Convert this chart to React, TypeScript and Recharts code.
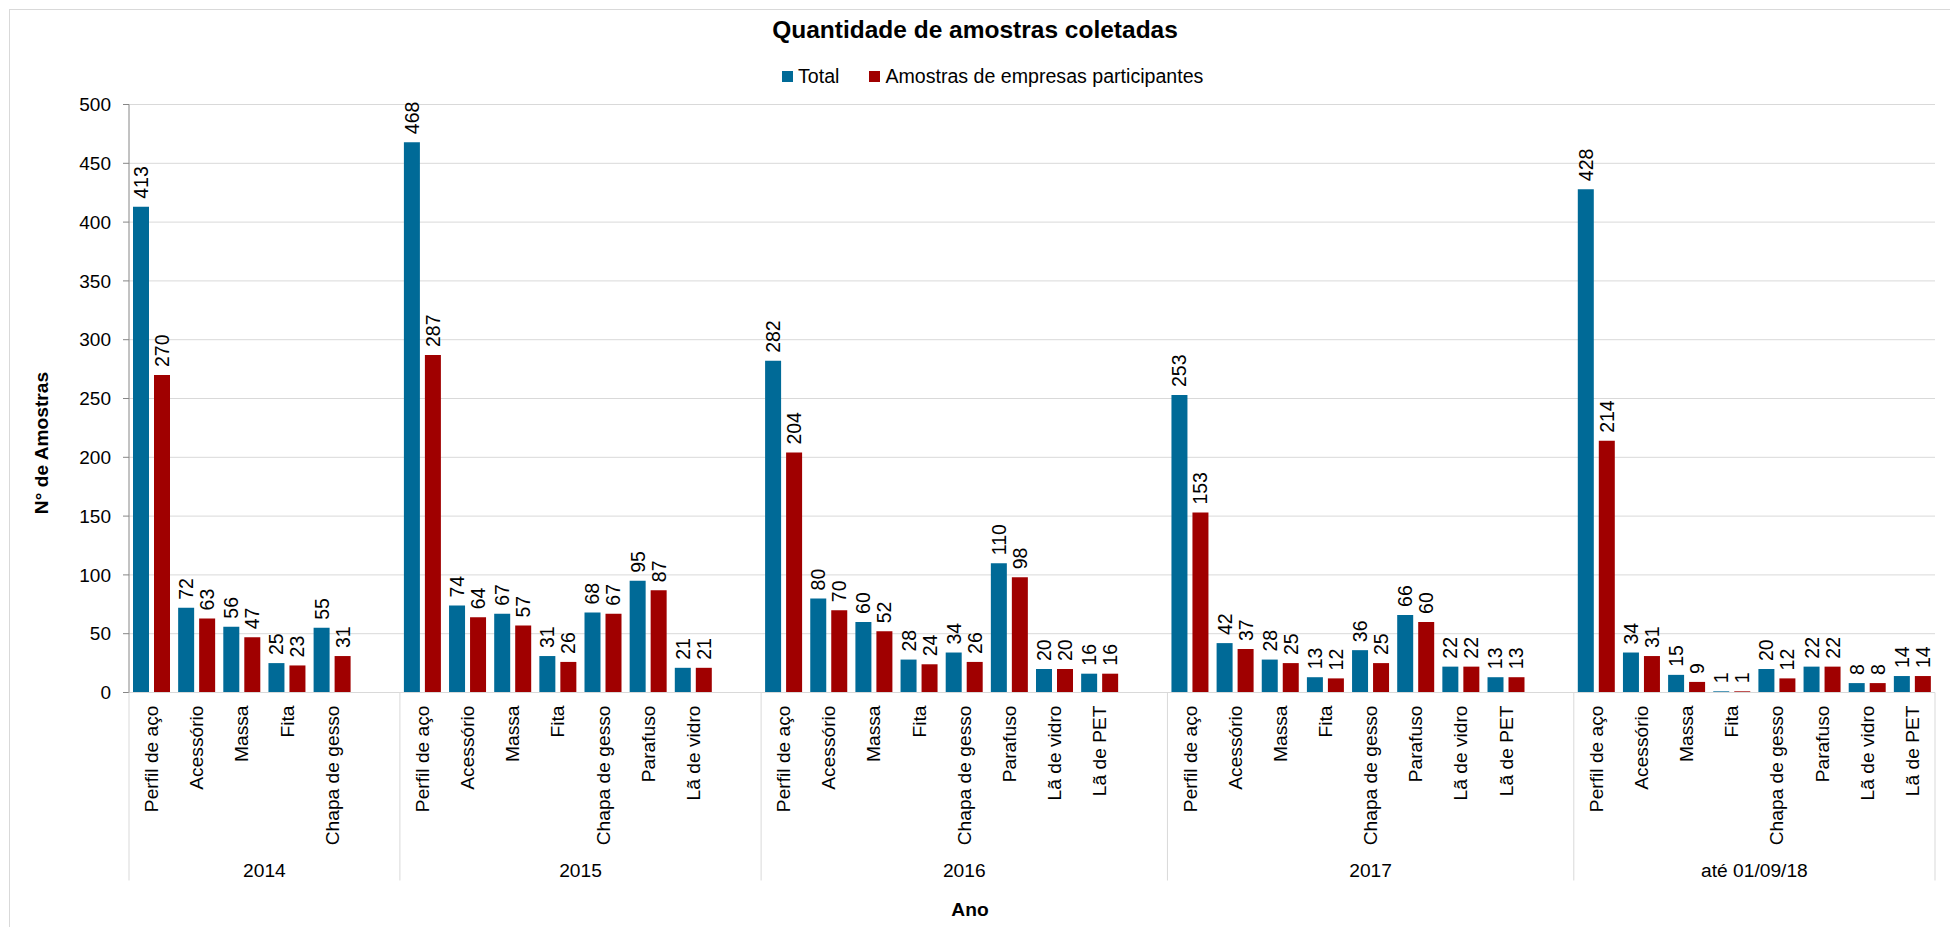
import React from 'react'
import { BarChart, Bar, XAxis, YAxis, CartesianGrid, LabelList } from 'recharts'

// one entry per period on the x axis
const years = ['2014', '2015', '2016', '2017', 'até 01/09/18']

const categories = [
  ['Perfil de aço', 'Acessório', 'Massa', 'Fita', 'Chapa de gesso'],
  ['Perfil de aço', 'Acessório', 'Massa', 'Fita', 'Chapa de gesso', 'Parafuso', 'Lã de vidro'],
  ['Perfil de aço', 'Acessório', 'Massa', 'Fita', 'Chapa de gesso', 'Parafuso', 'Lã de vidro', 'Lã de PET'],
  ['Perfil de aço', 'Acessório', 'Massa', 'Fita', 'Chapa de gesso', 'Parafuso', 'Lã de vidro', 'Lã de PET'],
  ['Perfil de aço', 'Acessório', 'Massa', 'Fita', 'Chapa de gesso', 'Parafuso', 'Lã de vidro', 'Lã de PET'],
]

const totalValues = [
  [413, 72, 56, 25, 55],
  [468, 74, 67, 31, 68, 95, 21],
  [282, 80, 60, 28, 34, 110, 20, 16],
  [253, 42, 28, 13, 36, 66, 22, 13],
  [428, 34, 15, 1, 20, 22, 8, 14],
]

const participantValues = [
  [270, 63, 47, 23, 31],
  [287, 64, 57, 26, 67, 87, 21],
  [204, 70, 52, 24, 26, 98, 20, 16],
  [153, 37, 25, 12, 25, 60, 22, 13],
  [214, 31, 9, 1, 12, 22, 8, 14],
]

const yTicks = [0, 50, 100, 150, 200, 250, 300, 350, 400, 450, 500]

const BLUE = '#006a97'
const RED = '#a00000'
const GRID = '#d9d9d9'

// flatten the groups, with an empty slot after every group but the last
type Row = {
  name: string
  total: number | null
  part: number | null
  group: number
  pos: number
  size: number
}

const rows: Row[] = []
years.forEach((_, g) => {
  const cats = categories[g]
  const hasGap = g < years.length - 1
  const size = cats.length + (hasGap ? 1 : 0)
  cats.forEach((name, i) => {
    rows.push({ name, total: totalValues[g][i], part: participantValues[g][i], group: g, pos: i, size })
  })
  if (hasGap) rows.push({ name: '', total: null, part: null, group: g, pos: cats.length, size })
})

const CHART_W = 1950
const CHART_H = 927
const margin = { top: 104.5, right: 15, bottom: 34, left: 69 }
const Y_WIDTH = 60
const X_HEIGHT = CHART_H - margin.top - margin.bottom - 588
const plotWidth = CHART_W - margin.left - margin.right - Y_WIDTH
const fallbackBand = plotWidth / rows.length

const CategoryTick = (props: any) => {
  const { x, y, payload } = props
  const idx = payload?.index ?? props.index
  const row = rows[idx]
  if (!row) return null
  const band = payload?.offset ? payload.offset * 2 : fallbackBand
  const left = x - band / 2
  return (
    <g>
      {row.name && (
        <text
          x={x}
          y={y + 13}
          transform={`rotate(-90, ${x}, ${y + 13})`}
          textAnchor="end"
          dominantBaseline="central"
          fontSize={19.2}
          fill="#000"
        >
          {row.name}
        </text>
      )}
      {row.pos === 0 && (
        <>
          <line x1={left} x2={left} y1={y} y2={y + 188} stroke={GRID} />
          <text x={left + (row.size * band) / 2} y={y + 184} textAnchor="middle" fontSize={19.2} fill="#000">
            {years[row.group]}
          </text>
        </>
      )}
      {idx === rows.length - 1 && (
        <line x1={x + band / 2} x2={x + band / 2} y1={y} y2={y + 188} stroke={GRID} />
      )}
    </g>
  )
}

const ValueLabel = (props: any) => {
  const { x, y, width, value } = props
  if (value === null || value === undefined) return null
  const cx = x + width / 2
  const ty = y - 8
  return (
    <text
      x={cx}
      y={ty}
      transform={`rotate(-90, ${cx}, ${ty})`}
      textAnchor="start"
      dominantBaseline="central"
      fontSize={19.5}
      fill="#000"
    >
      {value}
    </text>
  )
}

export default function App() {
  return (
    <div
      style={{
        position: 'absolute',
        left: 0,
        top: 0,
        width: CHART_W,
        height: CHART_H,
        overflow: 'hidden',
        background: '#fff',
        fontFamily: '"Liberation Sans", Arial, sans-serif',
      }}
    >
      <div
        style={{
          position: 'absolute',
          left: 9,
          top: 9,
          width: CHART_W,
          height: CHART_H,
          border: `1px solid ${GRID}`,
        }}
      />
      <div
        style={{
          position: 'absolute',
          left: 0,
          width: CHART_W,
          top: 16,
          textAlign: 'center',
          fontWeight: 'bold',
          fontSize: 24.5,
          lineHeight: '28px',
        }}
      >
        Quantidade de amostras coletadas
      </div>
      <div
        style={{
          position: 'absolute',
          left: 782,
          top: 65,
          display: 'flex',
          alignItems: 'center',
          fontSize: 19.6,
          lineHeight: '22px',
        }}
      >
        <span style={{ width: 11, height: 11, background: BLUE, display: 'inline-block', marginRight: 5 }} />
        <span style={{ marginRight: 30 }}>Total</span>
        <span style={{ width: 11, height: 11, background: RED, display: 'inline-block', marginRight: 5 }} />
        <span>Amostras de empresas participantes</span>
      </div>
      <div
        style={{
          position: 'absolute',
          left: 42,
          top: 443,
          transform: 'translate(-50%, -50%) rotate(-90deg)',
          fontWeight: 'bold',
          fontSize: 19.2,
          whiteSpace: 'nowrap',
        }}
      >
        N° de Amostras
      </div>
      <div
        style={{
          position: 'absolute',
          left: 970,
          top: 910,
          transform: 'translate(-50%, -50%)',
          fontWeight: 'bold',
          fontSize: 19.2,
        }}
      >
        Ano
      </div>
      <div style={{ position: 'absolute', left: 0, top: 0 }}>
        <BarChart width={CHART_W} height={CHART_H} data={rows} margin={margin} barGap={5}>
          <CartesianGrid vertical={false} stroke={GRID} />
          <XAxis
            dataKey="name"
            interval={0}
            height={X_HEIGHT}
            tickSize={0}
            tickMargin={0}
            tickLine={false}
            axisLine={{ stroke: GRID }}
            tick={<CategoryTick />}
          />
          <YAxis
            domain={[0, 500]}
            ticks={yTicks}
            interval={0}
            width={Y_WIDTH}
            tickSize={6}
            tickMargin={12}
            axisLine={{ stroke: '#868686' }}
            tickLine={{ stroke: '#868686' }}
            tick={{ fill: '#000', fontSize: 19 }}
          />
          <Bar dataKey="total" name="Total" fill={BLUE} barSize={16} isAnimationActive={false}>
            <LabelList dataKey="total" content={<ValueLabel />} />
          </Bar>
          <Bar dataKey="part" name="Amostras de empresas participantes" fill={RED} barSize={16} isAnimationActive={false}>
            <LabelList dataKey="part" content={<ValueLabel />} />
          </Bar>
        </BarChart>
      </div>
    </div>
  )
}
